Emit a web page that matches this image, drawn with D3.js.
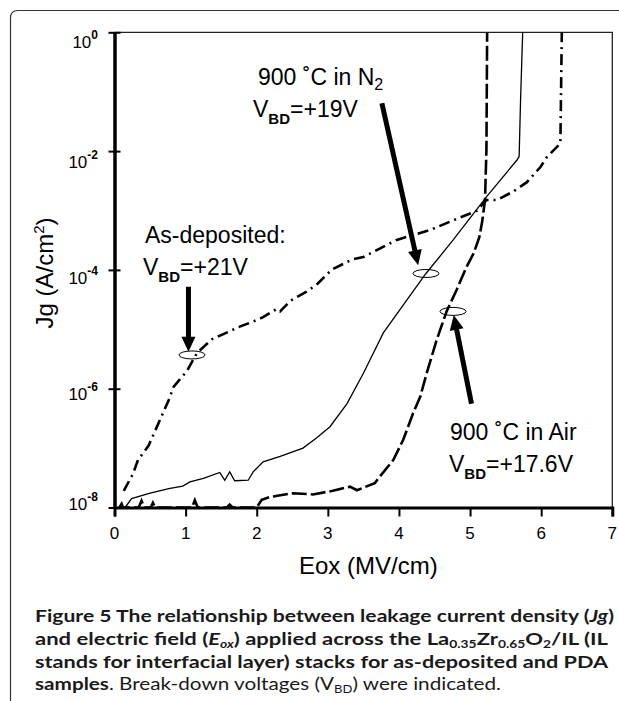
<!DOCTYPE html>
<html>
<head>
<meta charset="utf-8">
<script src="https://cdn.jsdelivr.net/npm/d3@7"></script>
<style>
body { margin: 0; background: #fff; }
svg { display: block; }
</style>
</head>
<body>
<svg width="619" height="701"></svg>
<script>
// Jg vs Eox
var asDepE = [0.13, 0.26, 0.33, 0.48, 0.64, 0.76, 0.83, 1.02, 1.16, 1.37, 1.77, 1.95, 2.09, 2.28, 2.33, 2.47, 2.70, 2.86, 3.05, 3.34, 3.50, 3.97, 4.44, 4.77, 5.09, 5.23, 5.38, 5.61, 5.80, 5.99, 6.08, 6.27, 6.29];
var asDepJ = [1.9e-8, 3.7e-8, 6.3e-8, 1.1e-7, 3.0e-7, 6.3e-7, 1.07e-6, 2.0e-6, 4.0e-6, 6.8e-6, 1.12e-5, 1.35e-5, 1.6e-5, 2.2e-5, 2.0e-5, 3.0e-5, 4.3e-5, 5.9e-5, 1.0e-4, 1.5e-4, 1.65e-4, 3.2e-4, 4.7e-4, 6.9e-4, 9.8e-4, 1.5e-3, 1.5e-3, 2.1e-3, 3.0e-3, 5.4e-3, 7.9e-3, 1.35e-2, 1];

var n2E = [0.15, 0.24, 0.50, 0.78, 0.96, 1.06, 1.25, 1.48, 1.55, 1.62, 1.69, 1.88, 1.95, 2.09, 2.33, 2.65, 2.84, 3.03, 3.27, 3.50, 3.78, 4.11, 4.38, 4.76, 5.23, 5.66, 5.69, 5.71, 5.74];
var n2J = [1e-8, 1.41e-8, 1.74e-8, 2.09e-8, 2.29e-8, 2.69e-8, 3.09e-8, 3.89e-8, 2.88e-8, 3.98e-8, 2.82e-8, 2.88e-8, 3.98e-8, 5.89e-8, 7.24e-8, 1.0e-7, 1.48e-7, 2.29e-7, 5.62e-7, 1.82e-6, 8.7e-6, 3.09e-5, 8.7e-5, 3.16e-4, 1.7e-3, 7.08e-3, 8.13e-3, 7.24e-2, 1];

var airE = [0.07, 0.10, 0.12, 0.34, 0.38, 0.42, 0.51, 0.54, 0.57, 1.09, 1.13, 1.17, 1.58, 1.62, 1.66, 2.0, 2.07, 2.19, 2.51, 2.79, 3.07, 3.31, 3.41, 3.66, 3.73, 3.92, 4.06, 4.20, 4.30, 4.39, 4.53, 4.67, 4.81, 4.95, 5.05, 5.13, 5.17, 5.21, 5.23, 5.24];
var airJ = [1e-8, 1.15e-8, 1e-8, 1e-8, 1.3e-8, 1e-8, 1e-8, 1.2e-8, 1e-8, 1e-8, 1.32e-8, 1e-8, 1e-8, 1.12e-8, 1e-8, 1e-8, 1.35e-8, 1.51e-8, 1.74e-8, 1.66e-8, 1.91e-8, 2.24e-8, 1.95e-8, 2.57e-8, 3.31e-8, 6.3e-8, 1.38e-7, 3.9e-7, 7.4e-7, 1.82e-6, 6.6e-6, 2.0e-5, 4.6e-5, 1.12e-4, 1.9e-4, 3.55e-4, 6.5e-4, 1.5e-3, 1.05e-2, 1];

var xTicks = [0, 1, 2, 3, 4, 5, 6, 7];
var yTickExp = [0, -2, -4, -6, -8];

// breakdown points (as-deposited, N2, air)
var bdE = [1.09, 4.38, 4.76];
var bdJ = [3.7e-6, 8.7e-5, 2.0e-5];
// arrows, tail -> tip
var arrFromE = [1.04, 3.76, 5.02];
var arrFromJ = [5.2e-5, 6.4e-2, 5.6e-7];
var arrToE = [1.04, 4.27, 4.77];
var arrToJ = [4.2e-6, 1.2e-4, 1.74e-5];

var svg = d3.select("svg");
var chartFont = "'Liberation Sans', Arial, sans-serif";

var x = d3.scaleLinear().domain([0, 7]).range([114.5, 612.3]);
var y = d3.scaleLog().domain([1e-8, 1]).range([507.5, 32.3]);

// outer frame (left + top, rounded corner)
svg.append("path")
    .attr("d", "M10.5,701 L10.5,18 Q10.5,10.5 18,10.5 L619,10.5")
    .attr("fill", "none").attr("stroke", "#333").attr("stroke-width", 1.2);

// plot box top / right
svg.append("path")
    .attr("d", "M" + x(0) + "," + y(1) + " L" + x(7) + "," + y(1) + " L" + x(7) + "," + y(1e-8))
    .attr("fill", "none").attr("stroke", "#222").attr("stroke-width", 1.3);

// curves
function series(E, J) { return E.map(function(e, i) { return [e, J[i]]; }); }
var line = d3.line().x(function(d) { return x(d[0]); }).y(function(d) { return y(d[1]); });

svg.append("path").datum(series(n2E, n2J))
    .attr("d", line).attr("fill", "none").attr("stroke", "#000").attr("stroke-width", 1.3);

svg.append("path").datum(series(airE, airJ))
    .attr("d", line).attr("fill", "none").attr("stroke", "#000").attr("stroke-width", 2.6)
    .attr("stroke-dasharray", "15,4");

svg.append("path").datum(series(asDepE, asDepJ))
    .attr("d", line).attr("fill", "none").attr("stroke", "#000").attr("stroke-width", 2.6)
    .attr("stroke-dasharray", "11,5,2,5");

// axes
var xAxis = d3.axisBottom(x).tickValues(xTicks).tickSize(9).tickFormat("");
var gx = svg.append("g").attr("transform", "translate(0," + y(1e-8) + ")").call(xAxis);
gx.select(".domain").attr("stroke", "#000").attr("stroke-width", 3);
gx.selectAll(".tick line").attr("stroke", "#000").attr("stroke-width", 2);

var yAxis = d3.axisLeft(y).tickValues(yTickExp.map(function(p) { return Math.pow(10, p); })).tickSize(6).tickSizeOuter(0).tickFormat("");
var gy = svg.append("g").attr("transform", "translate(" + x(0) + ",0)").call(yAxis);
gy.select(".domain").attr("stroke", "#000").attr("stroke-width", 3.5);
gy.selectAll(".tick line").attr("x1", 6).attr("stroke", "#000").attr("stroke-width", 2);

svg.append("g").selectAll("text").data(xTicks).enter().append("text")
    .attr("x", function(d) { return x(d); })
    .attr("y", 539)
    .attr("text-anchor", "middle")
    .attr("font-family", chartFont).attr("font-size", 17)
    .text(function(d) { return d; });

var nudge = [16, 17, 14, 11, 2];
var yl = svg.append("g").selectAll("text").data(yTickExp).enter().append("text")
    .attr("x", 98)
    .attr("y", function(d, i) { return y(Math.pow(10, d)) + nudge[i]; })
    .attr("text-anchor", "end")
    .attr("font-family", chartFont).attr("font-size", 17);
yl.append("tspan").text("10");
yl.append("tspan").attr("dy", -9).attr("font-size", 12).attr("font-weight", "bold")
    .text(function(d) { return d === 0 ? "0" : String(d); });

// axis titles
svg.append("text").attr("x", 299).attr("y", 574)
    .attr("font-family", chartFont).attr("font-size", 24).text("Eox (MV/cm)");
var yt = svg.append("text").attr("transform", "translate(53,273) rotate(-90)")
    .attr("text-anchor", "middle").attr("font-family", chartFont).attr("font-size", 24);
yt.append("tspan").text("Jg (A/cm");
yt.append("tspan").attr("dy", -9).attr("font-size", 15).text("2");
yt.append("tspan").attr("dy", 9).text(")");

// breakdown markers
svg.append("g").selectAll("ellipse").data(bdE).enter().append("ellipse")
    .attr("cx", function(d) { return x(d); })
    .attr("cy", function(d, i) { return y(bdJ[i]); })
    .attr("rx", 13).attr("ry", 4)
    .attr("fill", "none").attr("stroke", "#000").attr("stroke-width", 1);

// arrows
arrFromE.forEach(function(e, i) {
    var x0 = x(e), y0 = y(arrFromJ[i]), x1 = x(arrToE[i]), y1 = y(arrToJ[i]);
    var len = Math.hypot(x1 - x0, y1 - y0), ux = (x1 - x0) / len, uy = (y1 - y0) / len;
    var hl = 15, hw = 7;
    svg.append("line")
        .attr("x1", x0).attr("y1", y0)
        .attr("x2", x1 - ux * (hl - 2)).attr("y2", y1 - uy * (hl - 2))
        .attr("stroke", "#000").attr("stroke-width", 5);
    var bx = x1 - ux * hl, by = y1 - uy * hl;
    svg.append("polygon")
        .attr("points", [[x1, y1], [bx - uy * hw, by + ux * hw], [bx + uy * hw, by - ux * hw]].join(" "))
        .attr("fill", "#000");
});

// annotations
function vbd(px, py, value) {
    var t = svg.append("text").attr("x", px).attr("y", py)
        .attr("font-family", chartFont).attr("font-size", 23);
    t.append("tspan").text("V");
    t.append("tspan").attr("dy", 7).attr("font-size", 15).attr("font-weight", "bold").text("BD");
    t.append("tspan").attr("dy", -7).text(value);
}
svg.append("text").attr("x", 145).attr("y", 243)
    .attr("font-family", chartFont).attr("font-size", 23).text("As-deposited:");
vbd(143, 275, "=+21V");

var n2 = svg.append("text").attr("x", 258).attr("y", 85)
    .attr("font-family", chartFont).attr("font-size", 23);
n2.append("tspan").text("900 \u02DAC in N");
n2.append("tspan").attr("dy", 5).attr("font-size", 16).text("2");
vbd(253, 117, "=+19V");

svg.append("text").attr("x", 450).attr("y", 440)
    .attr("font-family", chartFont).attr("font-size", 23).text("900 \u02DAC in Air");
vbd(449, 472, "=+17.6V");

// caption
var capFont = "Lato, 'Open Sans', sans-serif";
function capLine(py, len, parts) {
    var t = svg.append("text").attr("x", 35).attr("y", py)
        .attr("font-family", capFont).attr("font-size", 17.5).attr("fill", "#1a1a1a")
        .attr("textLength", len).attr("lengthAdjust", "spacingAndGlyphs");
    parts.forEach(function(p) {
        var s = t.append("tspan").text(p.t);
        if (p.b) s.attr("font-weight", "bold");
        if (p.i) s.attr("font-style", "italic");
        if (p.sub) s.attr("font-size", 11).attr("dy", 3);
        if (p.up) s.attr("dy", -3);
    });
}
capLine(622, 579, [
    {t: "Figure 5 ", b: 1},
    {t: "The relationship between leakage current density (", b: 1},
    {t: "Jg", b: 1, i: 1},
    {t: ")", b: 1}
]);
capLine(645, 573, [
    {t: "and electric field (", b: 1},
    {t: "E", b: 1, i: 1},
    {t: "ox", b: 1, i: 1, sub: 1},
    {t: ") applied across the La", b: 1, up: 1},
    {t: "0.35", b: 1, sub: 1},
    {t: "Zr", b: 1, up: 1},
    {t: "0.65", b: 1, sub: 1},
    {t: "O", b: 1, up: 1},
    {t: "2", b: 1, sub: 1},
    {t: "/IL (IL", b: 1, up: 1}
]);
capLine(668, 573, [
    {t: "stands for interfacial layer) stacks for as-deposited and PDA", b: 1}
]);
capLine(690, 466, [
    {t: "samples", b: 1},
    {t: ". Break-down voltages (V"},
    {t: "BD", sub: 1},
    {t: ") were indicated.", up: 1}
]);
</script>
</body>
</html>
